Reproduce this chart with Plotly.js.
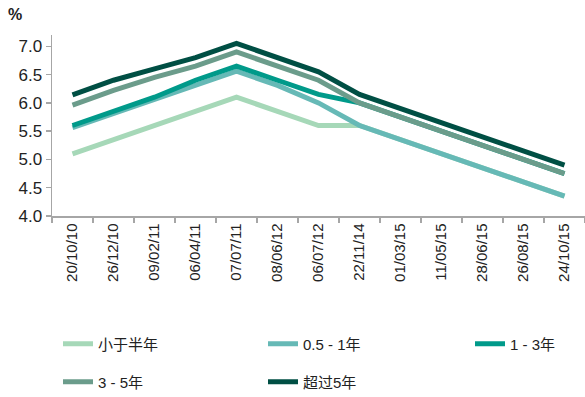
<!DOCTYPE html>
<html>
<head>
<meta charset="utf-8">
<script src="https://cdn.plot.ly/plotly-3.0.1.min.js"></script>
<style>html,body{margin:0;padding:0;background:#fff;}#chart{width:585px;height:397px;}</style>
</head>
<body>
<div id="chart"></div>
<script>
const dates = ["20/10/10","26/12/10","09/02/11","06/04/11","07/07/11","08/06/12","06/07/12","22/11/14","01/03/15","11/05/15","28/06/15","26/08/15","24/10/15"];
const seriesNames = ["小于半年","0.5 - 1年","1 - 3年","3 - 5年","超过5年"];
const lessHalfYear = [5.10,5.35,5.60,5.85,6.10,5.85,5.60,5.60,5.35,5.10,4.85,4.60,4.35];
const halfToOneYear = [5.56,5.81,6.06,6.31,6.56,6.31,6.00,5.60,5.35,5.10,4.85,4.60,4.35];
const oneToThreeYears = [5.60,5.85,6.10,6.40,6.65,6.40,6.15,6.00,5.75,5.50,5.25,5.00,4.75];
const threeToFiveYears = [5.96,6.22,6.45,6.65,6.90,6.65,6.40,6.00,5.75,5.50,5.25,5.00,4.75];
const overFiveYears = [6.14,6.40,6.60,6.80,7.05,6.80,6.55,6.15,5.90,5.65,5.40,5.15,4.90];
const colors = ["#a6d8b8","#66b9b6","#009a8a","#6b9c8b","#004f44"];

const allSeries = [lessHalfYear, halfToOneYear, oneToThreeYears, threeToFiveYears, overFiveYears];
const legendIds = ["legend","legend2","legend3","legend4","legend5"];
const traces = allSeries.map((vals, i) => ({
  type: "scatter", mode: "lines", x: dates, y: vals, name: seriesNames[i],
  line: {color: colors[i], width: 5}, legend: legendIds[i]
}));

const FONT = "Liberation Sans, Arial, Noto Sans CJK SC, sans-serif";
const legendPos = [[58, 344], [263, 344], [470, 344], [58, 382], [263, 382]];
function legendAt(p) {
  return {
    orientation: "h", xref: "container", yref: "container", xanchor: "left", yanchor: "middle",
    x: p[0] / 585, y: 1 - p[1] / 397,
    font: {family: FONT, size: 15, color: "#222"}, bgcolor: "rgba(0,0,0,0)"
  };
}

const layout = {
  width: 585, height: 397,
  margin: {l: 52, r: 0, t: 35, b: 181},
  paper_bgcolor: "#fff", plot_bgcolor: "#fff",
  font: {family: FONT, color: "#222"},
  showlegend: true,
  title: {text: "<b>%</b>", font: {size: 16, color: "#222"}, x: 8/585, xanchor: "left", xref: "container", y: 1 - 14/397, yanchor: "middle", yref: "container"},
  xaxis: {
    type: "category", range: [-0.5, 12.5], tickangle: -90,
    showgrid: false, zeroline: false, showline: true, linecolor: "#a6a6a6", linewidth: 1.5,
    ticks: "outside", tickson: "boundaries", ticklen: 5, tickcolor: "#a6a6a6", tickwidth: 1.5,
    tickfont: {size: 15, color: "#222"}, fixedrange: true
  },
  yaxis: {
    range: [4, 7.2], tickvals: [4,4.5,5,5.5,6,6.5,7], ticktext: ["4.0","4.5","5.0","5.5","6.0","6.5","7.0"],
    showgrid: false, zeroline: false, showline: true, linecolor: "#a6a6a6", linewidth: 1.5,
    ticks: "outside", ticklen: 5, tickcolor: "#a6a6a6", tickwidth: 1.5,
    tickfont: {size: 17, color: "#222"}, fixedrange: true
  }
};
legendIds.forEach((id, i) => { layout[id] = legendAt(legendPos[i]); });

Plotly.newPlot("chart", traces, layout, {displayModeBar: false, staticPlot: true});
</script>
</body>
</html>
